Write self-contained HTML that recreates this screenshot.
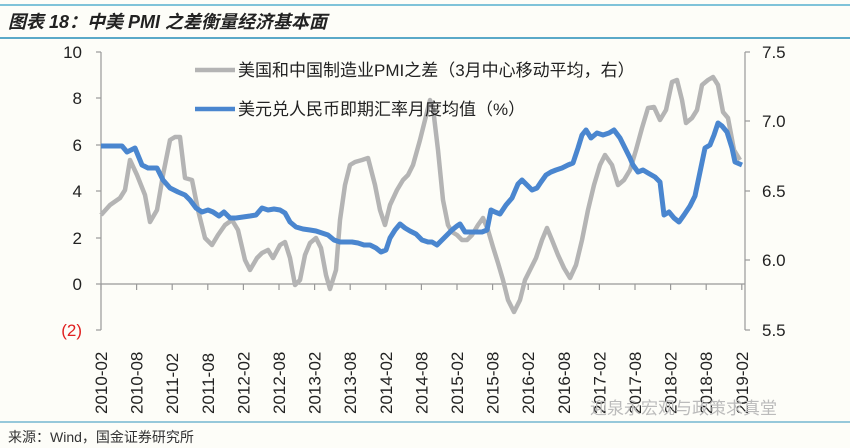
<!DOCTYPE html>
<html><head><meta charset="utf-8"><style>
html,body{margin:0;padding:0;background:#fdfdf8;}
svg{display:block}
text{font-family:"Liberation Sans","Noto Sans CJK SC",sans-serif;}
</style></head><body>
<svg width="850" height="448" viewBox="0 0 850 448" xmlns="http://www.w3.org/2000/svg">
<rect width="850" height="448" fill="#fdfdf8"/>
<line x1="0" y1="5" x2="850" y2="5" stroke="#7fc3d9" stroke-width="2"/>
<line x1="0" y1="38" x2="850" y2="38" stroke="#5aa9c8" stroke-width="2"/>
<text x="8" y="28" font-size="18" font-weight="bold" font-style="italic" fill="#222">图表 18：中美 PMI 之差衡量经济基本面</text>
<line x1="101" y1="52" x2="101" y2="330" stroke="#999" stroke-width="1.2"/>
<line x1="745" y1="52" x2="745" y2="330" stroke="#999" stroke-width="1.2"/>
<line x1="101" y1="284" x2="745" y2="284" stroke="#999" stroke-width="1.2"/>
<g stroke="#999" stroke-width="1.2">
<line x1="96" y1="52" x2="101" y2="52"/><line x1="96" y1="98" x2="101" y2="98"/><line x1="96" y1="145" x2="101" y2="145"/><line x1="96" y1="191" x2="101" y2="191"/><line x1="96" y1="238" x2="101" y2="238"/><line x1="96" y1="284" x2="101" y2="284"/><line x1="96" y1="330" x2="101" y2="330"/>
<line x1="745" y1="52" x2="750" y2="52"/><line x1="745" y1="121" x2="750" y2="121"/><line x1="745" y1="191" x2="750" y2="191"/><line x1="745" y1="260" x2="750" y2="260"/><line x1="745" y1="330" x2="750" y2="330"/>
</g>
<g stroke="#999" stroke-width="1.2" id="xt"></g>
<g font-size="17" fill="#222" text-anchor="end">
<text x="82" y="58">10</text><text x="82" y="104">8</text><text x="82" y="151">6</text><text x="82" y="197">4</text><text x="82" y="244">2</text><text x="82" y="290">0</text><text x="82" y="336" fill="#e02020">(2)</text>
</g>
<g font-size="17" fill="#222">
<text x="762" y="58">7.5</text><text x="762" y="127">7.0</text><text x="762" y="197">6.5</text><text x="762" y="266">6.0</text><text x="762" y="336">5.5</text>
</g>
<g id="xl" font-size="17" fill="#222"></g>
<polyline fill="none" stroke="#b4b4b4" stroke-width="4.5" stroke-linejoin="round" points="101,215 110,205 120,198 125,190 130,160 137,175 145,195 150,222 157,210 163,175 170,140 175,137 180,137 185,178 192,180 198,210 205,238 212,245 218,235 225,225 232,220 238,230 245,260 250,270 257,258 262,253 268,250 273,258 280,245 285,242 290,258 295,285 300,280 305,255 310,243 316,238 321,248 326,275 330,289 336,270 340,220 345,185 350,165 355,162 362,160 368,158 375,185 380,210 385,225 390,205 397,190 403,180 408,175 413,165 420,140 425,120 430,100 433,108 438,150 443,200 448,225 452,232 457,235 462,240 467,240 472,235 478,225 483,218 488,230 493,247 498,263 503,280 508,300 514,312 520,300 525,280 531,268 536,258 542,240 547,228 552,240 558,255 564,268 570,278 576,265 582,240 588,210 594,185 600,165 605,155 612,165 618,185 624,180 630,170 636,150 642,128 648,108 654,107 660,120 666,110 672,82 677,80 682,100 686,123 692,118 697,110 702,85 708,80 713,77 718,85 723,112 728,118 734,150 740,160"/>
<polyline fill="none" stroke="#4a86cf" stroke-width="5" stroke-linejoin="round" points="101,146 122,146 127,152 135,148 142,165 148,168 157,168 163,180 170,188 178,192 185,195 190,200 196,208 202,212 208,210 213,212 219,216 224,212 230,218 236,218 243,217 250,216 256,215 262,208 268,210 274,209 280,210 285,213 290,222 296,227 303,229 310,230 316,231 322,233 328,235 334,240 340,242 346,242 352,242 358,243 364,245 370,245 376,248 381,252 386,250 390,238 395,230 400,224 405,228 410,231 416,234 422,240 428,242 432,242 437,245 442,240 447,235 452,230 457,226 460,224 465,232 470,232 476,232 482,232 487,230 491,210 495,212 500,214 506,205 512,198 518,184 522,180 527,185 532,190 537,188 541,182 546,175 551,172 556,170 562,168 568,165 573,163 578,148 582,135 586,130 591,138 597,133 603,135 609,133 614,130 620,138 625,148 630,158 633,165 638,172 643,170 648,173 655,177 660,182 664,215 669,212 674,218 679,222 684,215 690,206 695,196 700,172 705,148 710,145 714,135 718,123 722,126 727,132 732,148 735,162 742,165"/>
<line x1="195" y1="70" x2="235" y2="70" stroke="#b4b4b4" stroke-width="4.5"/>
<line x1="195" y1="109" x2="235" y2="109" stroke="#4a86cf" stroke-width="4.5"/>
<text x="238" y="76" font-size="17" fill="#222">美国和中国制造业PMI之差（3月中心移动平均，右）</text>
<text x="238" y="115" font-size="17" fill="#222">美元兑人民币即期汇率月度均值（%）</text>
<line x1="0" y1="422" x2="850" y2="422" stroke="#5aa9c8" stroke-width="1.2"/>
<text x="8" y="442" font-size="14" fill="#333">来源：Wind，国金证券研究所</text>
<text x="590" y="414" font-size="17" fill="#bbb">迎泉永宏观与政策求真堂</text>
</svg>
<script>
var xt=document.getElementById('xt'),xl=document.getElementById('xl'),ns='http://www.w3.org/2000/svg';
var labs=['2010-02','2010-08','2011-02','2011-08','2012-02','2012-08','2013-02','2013-08','2014-02','2014-08','2015-02','2015-08','2016-02','2016-08','2017-02','2017-08','2018-02','2018-08','2019-02'];
for(var i=0;i<labs.length;i++){var x=101+i*35.6;
var l=document.createElementNS(ns,'line');l.setAttribute('x1',x);l.setAttribute('x2',x);l.setAttribute('y1',284);l.setAttribute('y2',290);xt.appendChild(l);
var t=document.createElementNS(ns,'text');t.setAttribute('transform','translate('+(x+6)+',414) rotate(-90)');t.textContent=labs[i];xl.appendChild(t);}
</script>
</body></html>
